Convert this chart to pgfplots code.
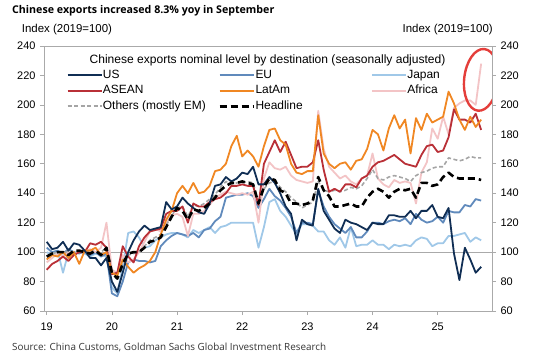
\documentclass[border=0pt]{standalone}
\usepackage{fontspec}
\setmainfont{Liberation Sans}
\newfontfamily\titlefont{Open Sans}
\usepackage{pgfplots}
\usepackage{pgfplotstable}
\pgfplotsset{compat=1.18}
\definecolor{cUS}{RGB}{16,46,84}
\definecolor{cEU}{RGB}{96,138,188}
\definecolor{cJP}{RGB}{160,200,232}
\definecolor{cAS}{RGB}{185,48,55}
\definecolor{cLA}{RGB}{240,135,35}
\definecolor{cAF}{RGB}{243,196,198}
\definecolor{cOT}{RGB}{165,165,165}
\definecolor{axgray}{RGB}{170,170,170}
\definecolor{circ}{RGB}{228,62,58}
\pgfplotstableread{
m US EU JP AS LA AF OT HL
0 107 103 100 88 95 93 97 97
1 102 100 98 92 98 96 99 99
2 103 101 101 94 97 99 100 100
3 107 99 86 97 100 97 99 100
4 101 102 100 94 96 100 101 98
5 106 100 98 98 100 98 100 101
6 105 99 100 100 92 101 101 101
7 101 101 99 100 101 100 100 100
8 96 98 97 106 101 102 101 99
9 96 100 99 105 103 100 100 101
10 91 97 98 107 98 103 100 98
11 96 99 97 103 100 120 103 103
12 80 72 76 85 86 88 88 86
13 73 70 72 86 84 86 84 82
14 86 80 90 104 95 98 93 92
15 100 93 113 97 90 93 98 99
16 108 95 114 93 86 95 99 100
17 114 94 110 104 89 100 100 100
18 118 94 103 110 91 107 104 103
19 115 93 104 114 94 114 108 107
20 116 94 108 115 100 116 110 108
21 117 104 110 116 112 114 112 110
22 134 108 112 126 122 120 118 117
23 129 111 113 128 128 125 125 124
24 131 113 113 128 140 126 130 130
25 137 112 112 131 145 124 131 128
26 133 111 110 120 140 111 124 122
27 130 113 115 133 147 126 132 129
28 127 110 113 131 140 126 131 128
29 126 115 115 131 141 128 133 130
30 133 116 117 134 145 132 136 133
31 145 121 113 136 155 137 139 137
32 146 124 117 137 156 139 144 142
33 151 137 118 140 160 141 148 145
34 148 138 120 145 172 140 146 147
35 150 139 120 145 179 139 147 147
36 154 139 120 146 165 140 147 148
37 153 140 120 145 169 139 148 147
38 158 138 120 145 165 141 147 146
39 146 130 103 132 158 120 134 133
40 146 136 117 160 172 150 143 144
41 151 143 134 168 183 161 147 150
42 147 138 136 176 184 157 148 149
43 140 135 128 168 176 156 144 142
44 131 130 124 175 173 158 141 140
45 126 124 118 166 160 152 137 133
46 108 113 112 157 154 149 134 133
47 122 120 119 158 153 148 130 132
48 119 120 119 158 155 147 132 133
49 118 119 118 161 155 148 134 135
50 143 142 114 176 193 196 148 151
51 128 131 114 156 167 170 142 142
52 122 124 108 141 160 158 141 138
53 116 119 105 143 157 154 142 131
54 113 116 110 141 160 150 141 131
55 122 113 103 146 161 152 142 132
56 120 117 117 146 156 148 144 133
57 119 110 104 144 162 146 143 131
58 117 110 105 150 163 150 145 131
59 115 114 105 152 170 152 150 137
60 120 120 108 158 183 167 156 141
61 119 120 105 161 180 150 150 143
62 119 119 105 162 169 146 149 141
63 125 121 102 164 184 144 151 137
64 125 122 105 166 193 149 152 141
65 124 121 104 163 184 147 151 143
66 124 123 105 160 190 148 150 142
67 128 119 104 159 167 147 148 143
68 123 126 108 158 191 133 152 137
69 128 122 110 166 183 154 154 147
70 128 120 109 172 194 161 155 147
71 132 121 104 173 188 184 157 145
72 124 124 106 168 190 177 158 146
73 123 120 106 169 192 192 158 151
74 130 128 111 178 209 180 164 154
75 99 127 111 197 201 198 163 151
76 81 127 112 190 190 201 162 150
77 103 132 113 190 183 203 163 150
78 95 131 107 188 192 203 165 150
79 86 136 110 194 185 200 164 150
80 90 135 108 183 190 228 164 149
}\data
\begin{document}
\begin{tikzpicture}
\path[use as bounding box] (-44bp,-48bp) rectangle (502bp,311bp);
\begin{axis}[
  at={(0,0)}, anchor=south west,
  scale only axis, width=448bp, height=265bp,
  xmin=-0.5, xmax=82, ymin=60, ymax=240,
  xtick={0,12,...,72}, xticklabels={19,20,21,22,23,24,25},
  ytick={60,80,...,240},
  xtick pos=lower, ytick pos=left,
  tick align=outside, major tick length=4bp,
  axis line style={draw=axgray, line width=0.7bp},
  tick style={draw=axgray, line width=0.7bp},
  tick label style={font=\fontsize{11}{13}\selectfont},
  /pgf/number format/assume math mode=true,
  yticklabel style={xshift=-1bp},
  xticklabel style={yshift=-4bp},
  legend columns=3,
  legend cell align=left,
  legend style={draw=none, fill=none, at={(0.05,0.914)}, anchor=north west,
    font=\fontsize{12}{14}\selectfont, inner sep=0pt, row sep=3bp, column sep=0pt,
    nodes={inner sep=0.5bp, text height=9bp, text depth=2.5bp}},
  legend image code/.code={\draw[#1] (0bp,0bp) -- (34bp,0bp);},
  line join=round,
]
\draw[axgray, line width=0.7bp] (axis cs:-0.5,100) -- (axis cs:82,100);
\addplot[cJP, line width=1.8bp, forget plot] table[x=m,y=JP]{\data};
\addplot[cEU, line width=1.8bp, forget plot] table[x=m,y=EU]{\data};
\addplot[cAF, line width=1.8bp, forget plot] table[x=m,y=AF]{\data};
\addplot[cOT, line width=1.6bp, dash pattern=on 4bp off 2.5bp, forget plot] table[x=m,y=OT]{\data};
\addplot[cAS, line width=1.8bp, forget plot] table[x=m,y=AS]{\data};
\addplot[cLA, line width=1.8bp, forget plot] table[x=m,y=LA]{\data};
\addplot[cUS, line width=1.8bp, forget plot] table[x=m,y=US]{\data};
\addplot[black, line width=2.6bp, dash pattern=on 7bp off 4bp, forget plot] table[x=m,y=HL]{\data};
\addlegendimage{cUS, line width=1.8bp}
\addlegendentry{\makebox[115bp][l]{US}}
\addlegendimage{cEU, line width=1.8bp}
\addlegendentry{\makebox[115bp][l]{EU}}
\addlegendimage{cJP, line width=1.8bp}
\addlegendentry{Japan}
\addlegendimage{cAS, line width=1.8bp}
\addlegendentry{\makebox[115bp][l]{ASEAN}}
\addlegendimage{cLA, line width=1.8bp}
\addlegendentry{\makebox[115bp][l]{LatAm}}
\addlegendimage{cAF, line width=1.8bp}
\addlegendentry{Africa}
\addlegendimage{cOT, line width=1.6bp, dash pattern=on 4bp off 2.5bp}
\addlegendentry{\makebox[115bp][l]{Others (mostly EM)}}
\addlegendimage{black, line width=2.6bp, dash pattern=on 7bp off 4bp}
\addlegendentry{\makebox[115bp][l]{Headline}}
\node[font=\fontsize{12.1}{14}\selectfont] at (rel axis cs:0.499,0.947) {Chinese exports nominal level by destination (seasonally adjusted)};
\draw[circ, line width=2.4bp, rotate around={-6:(axis cs:80,217)}] (axis cs:80,217) ellipse [x radius=17bp, y radius=31bp];
\end{axis}
\begin{axis}[
  at={(0,0)}, anchor=south west,
  scale only axis, width=448bp, height=265bp,
  xmin=-0.5, xmax=82, ymin=60, ymax=240,
  hide x axis, axis y line*=right,
  ytick={60,80,...,240},
  tick align=outside, major tick length=4bp,
  axis line style={draw=axgray, line width=0.7bp},
  tick style={draw=axgray, line width=0.7bp},
  tick label style={font=\fontsize{11}{13}\selectfont},
  /pgf/number format/assume math mode=true,
  yticklabel style={xshift=1bp},
]
\addplot[draw=none] coordinates {(0,100)};
\end{axis}
\draw[axgray, line width=0.7bp] (0bp,265bp) -- (448bp,265bp);
\node[anchor=base west, inner sep=0, font=\titlefont\bfseries\fontsize{10.7}{13}\selectfont] at (-32bp,297bp) {Chinese exports increased 8.3\% yoy in September};
\node[anchor=base west, inner sep=0, font=\fontsize{11.5}{13}\selectfont] at (-22.3bp,278bp) {Index (2019=100)};
\node[anchor=base east, inner sep=0, font=\fontsize{11.5}{13}\selectfont] at (449bp,278bp) {Index (2019=100)};
\node[anchor=base west, inner sep=0, text=black!80, font=\titlefont\fontsize{9.9}{11}\selectfont] at (-32bp,-39bp) {Source: China Customs, Goldman Sachs Global Investment Research};
\end{tikzpicture}
\end{document}
